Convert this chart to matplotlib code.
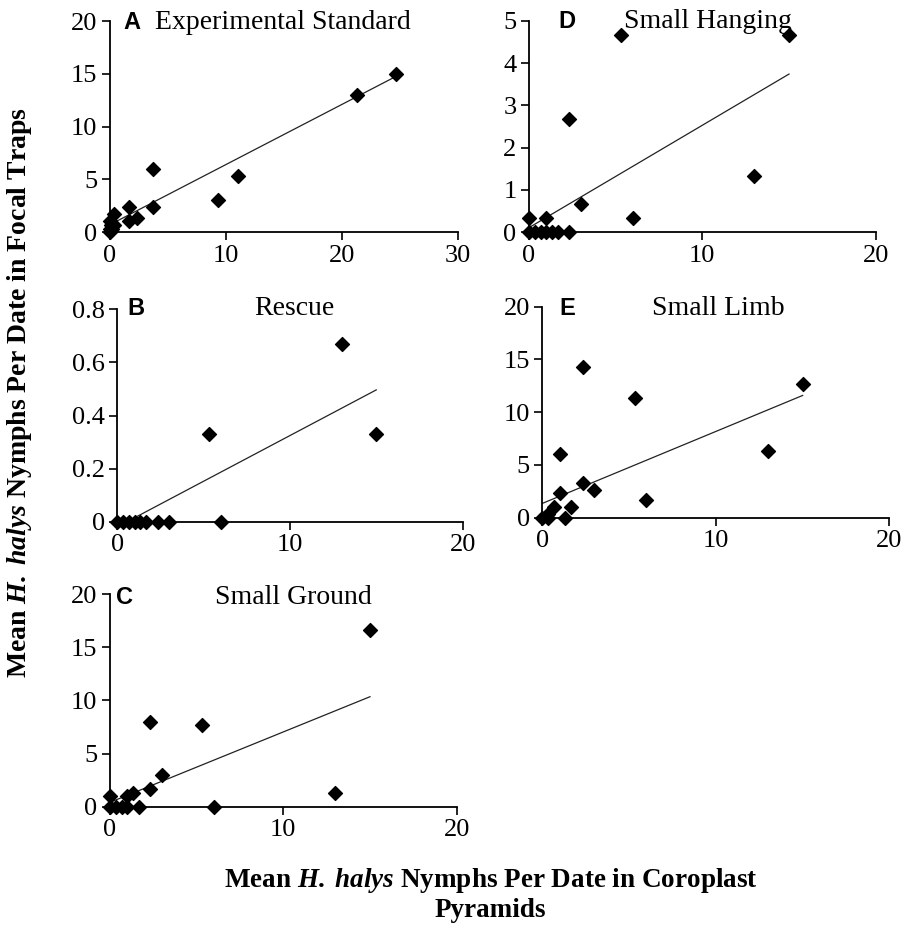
import numpy as np
import matplotlib
matplotlib.use("Agg")
import matplotlib.pyplot as plt

plt.rcParams['font.family'] = 'Liberation Serif'
plt.rcParams['mathtext.fontset'] = 'custom'
plt.rcParams['mathtext.rm'] = 'Liberation Serif:bold'
plt.rcParams['mathtext.bf'] = 'Liberation Serif:bold'
plt.rcParams['mathtext.bfit'] = 'Liberation Serif:italic:bold'

# Datos de cada panel (media de ninfas por fecha)
A_x = [0, 0, 0.1, 0.2, 0.33, 0.33, 0, 1.67, 1.67, 2.33, 3.67, 3.67, 9.33, 11.0, 21.33, 24.67]
A_y = [0, 0.33, 0.67, 0.33, 1.67, 0.67, 1.0, 2.33, 1.0, 1.33, 6.0, 2.33, 3.0, 5.33, 13.0, 15.0]
A_fit = (0.57, 0.7)

B_x = [0, 0.33, 0.67, 1.0, 1.33, 1.67, 2.33, 3.0, 6.0, 5.33, 13.0, 15.0]
B_y = [0, 0, 0, 0, 0, 0, 0, 0, 0, 0.33, 0.67, 0.33]
B_fit = (0.0344, -0.0195)

C_x = [0, 0, 0.33, 0.67, 1.0, 1.0, 1.33, 1.67, 2.33, 2.33, 3.0, 5.33, 6.0, 13.0, 15.0]
C_y = [0, 1.0, 0, 0, 0, 1.0, 1.33, 0, 1.67, 8.0, 3.0, 7.67, 0, 1.33, 16.67]
C_fit = (0.663, 0.41)

D_x = [0, 0.33, 0.67, 1.0, 1.33, 1.67, 2.33, 0, 1.0, 2.33, 3.0, 5.33, 6.0, 13.0, 15.0]
D_y = [0, 0, 0, 0, 0, 0, 0, 0.33, 0.33, 2.67, 0.67, 4.67, 0.33, 1.33, 4.67]
D_fit = (0.242, 0.11)

E_x = [0, 0.33, 0.33, 0.67, 1.0, 1.0, 1.33, 1.67, 2.33, 2.33, 3.0, 5.33, 6.0, 13.0, 15.0]
E_y = [0, 0, 0.33, 1.0, 2.33, 6.0, 0, 1.0, 3.33, 14.33, 2.67, 11.33, 1.67, 6.33, 12.67]
E_fit = (0.682, 1.36)

fig = plt.figure(figsize=(9.07, 9.30), dpi=100)

paneles = [
    # letra, titulo, x, y, ajuste, rect, xmax, ymax, yticks, pos letra, pos titulo
    ('A', 'Experimental Standard', A_x, A_y, A_fit, [0.1213, 0.7505, 0.3837, 0.2269],
     30, 20, [0, 5, 10, 15, 20], 0.062, 0.497, 0.995),
    ('B', 'Rescue', B_x, B_y, B_fit, [0.1293, 0.4390, 0.3807, 0.2284],
     20, 0.8, [0, 0.2, 0.4, 0.6, 0.8], 0.054, 0.512, 1.005),
    ('C', 'Small Ground', C_x, C_y, C_fit, [0.1213, 0.1326, 0.3822, 0.2284],
     20, 20, [0, 5, 10, 15, 20], 0.043, 0.53, 0.985),
    ('D', 'Small Hanging', D_x, D_y, D_fit, [0.5832, 0.7502, 0.3823, 0.2275],
     20, 5, [0, 1, 2, 3, 4, 5], 0.11, 0.515, 0.995),
    ('E', 'Small Limb', E_x, E_y, E_fit, [0.5980, 0.4433, 0.3826, 0.2269],
     20, 20, [0, 5, 10, 15, 20], 0.071, 0.507, 0.99),
]

for letra, titulo, x, y, fit, rect, xmax, ymax, yticks, lx, tx, ty in paneles:
    ax = fig.add_axes(rect)
    ax.scatter(x, y, marker='D', s=50, color='black', zorder=3, clip_on=False)
    xl = np.array([0, max(x)])
    ax.plot(xl, fit[0] * xl + fit[1], color='#222222', lw=0.9)
    ax.set_xlim(0, xmax)
    ax.set_ylim(0, ymax)
    ax.set_xticks(np.arange(0, xmax + 1, 10))
    ax.set_yticks(yticks)
    if ymax < 1:
        ax.set_yticklabels(['0', '0.2', '0.4', '0.6', '0.8'])
    for s in ['top', 'right']:
        ax.spines[s].set_visible(False)
    for s in ['left', 'bottom']:
        ax.spines[s].set_linewidth(1.3)
    ax.tick_params(direction='out', length=6, width=1.2, labelsize=19, pad=3)
    ax.patch.set_alpha(0)
    ax.text(lx, ty, letra, transform=ax.transAxes, ha='center', va='center',
            family='Liberation Sans', fontweight='bold', fontsize=17)
    ax.text(tx, ty, titulo, transform=ax.transAxes, ha='center', va='center', fontsize=20)

fig.text(0.022, 0.578, r'Mean $\mathbfit{H.\,halys}$ Nymphs Per Date in Focal Traps',
         rotation=90, ha='center', va='center', fontsize=20, fontweight='bold')
fig.text(0.541, 0.038, 'Mean $\\mathbfit{H.\\,halys}$ Nymphs Per Date in Coroplast\nPyramids',
         ha='center', va='center', fontsize=19.5, fontweight='bold', linespacing=1.15)

fig.savefig('out.png', dpi=100)
